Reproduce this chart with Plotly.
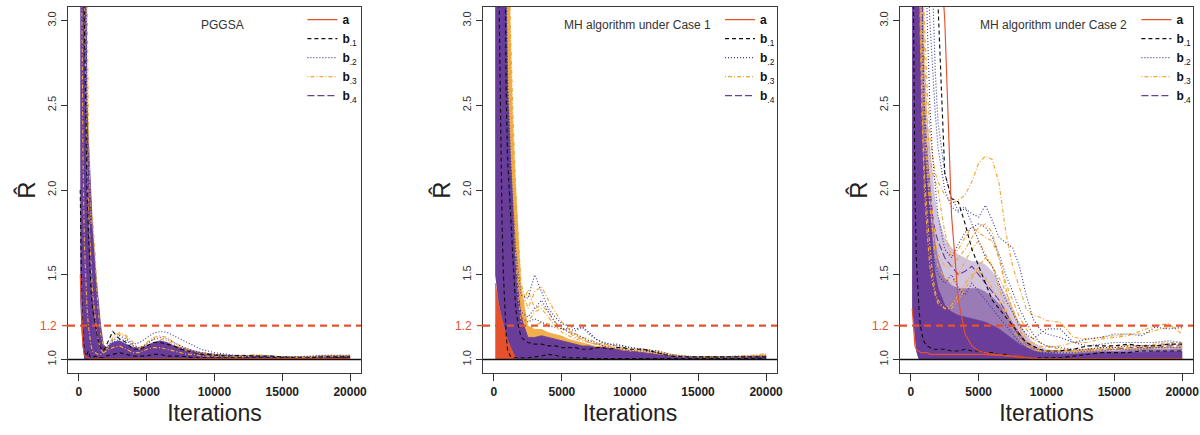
import plotly.graph_objects as go
from plotly.subplots import make_subplots

# ---------------- data ----------------
X = [100, 200, 300, 400, 500, 600, 700, 800, 900, 1000,
     1200, 1400, 1600, 1800, 2000,
     2500, 3000, 3500, 4000, 4500, 5000, 5500, 6000, 6500, 7000, 7500, 8000, 8500, 9000, 9500, 10000,
     11000, 12000, 13000, 14000, 15000, 16000, 17000, 18000, 19000, 20000]
X_TICKS = [0, 5000, 10000, 15000, 20000]
Y_TICKS = [1.0, 1.5, 2.0, 2.5, 3.0]
Y_TICK_TEXT = ["1.0", "1.5", "2.0", "2.5", "3.0"]
THRESHOLD = 1.2
PANEL_TITLES = ["PGGSA", "MH algorithm under Case 1", "MH algorithm under Case 2"]
LEGEND_NAMES = ["<b>a</b><sub>&nbsp;</sub>", "<b>b</b><sub>.1</sub>", "<b>b</b><sub>.2</sub>",
                "<b>b</b><sub>.3</sub>", "<b>b</b><sub>.4</sub>"]

# ---- Panel 1 : PGGSA ----
P1_LOW = [1.35, 1.15, 1.06, 1.0, 1.0, 1.0, 1.0, 1.0, 1.0, 1.0,
          1.0, 1.0, 1.0, 1.0, 1.0,
          1.0, 1.0, 1.0, 1.0, 1.0, 1.0, 1.0, 1.0, 1.0, 1.0, 1.0, 1.0, 1.0, 1.0, 1.0, 1.0,
          1.0, 1.0, 1.0, 1.0, 1.0, 1.0, 1.0, 1.0, 1.0, 1.0]
P1_TOP = [5.0, 5.0, 5.0, 5.0, 3.3, 2.5, 2.3, 2.12, 1.95, 1.78,
          1.55, 1.35, 1.2, 1.09, 1.07,
          1.10, 1.11, 1.09, 1.07, 1.07, 1.08, 1.10, 1.11, 1.10, 1.08, 1.07, 1.06, 1.05, 1.04, 1.035, 1.03,
          1.025, 1.02, 1.02, 1.02, 1.015, 1.015, 1.015, 1.02, 1.02, 1.02]
P1_B1 = [
    [5.0, 5.0, 4.0, 3.0, 2.4, 2.0, 1.75, 1.55, 1.4, 1.3,
     1.2, 1.12, 1.07, 1.05, 1.08,
     1.165, 1.12, 1.10, 1.06, 1.06, 1.08, 1.10, 1.10, 1.09, 1.08, 1.06, 1.05, 1.04, 1.03, 1.03, 1.025,
     1.02, 1.025, 1.02, 1.02, 1.015, 1.01, 1.01, 1.015, 1.015, 1.015],
    [2.0, 1.4, 1.15, 1.05, 1.02, 1.03, 1.05, 1.02, 1.01, 1.01,
     1.02, 1.01, 1.01, 1.01, 1.02,
     1.03, 1.04, 1.03, 1.02, 1.02, 1.02, 1.03, 1.03, 1.02, 1.02, 1.02, 1.015, 1.01, 1.01, 1.01, 1.01,
     1.01, 1.01, 1.01, 1.01, 1.01, 1.005, 1.005, 1.005, 1.01, 1.01],
]
P1_B2 = [
    [5.0, 5.0, 5.0, 4.2, 3.0, 2.4, 2.1, 1.9, 1.75, 1.6,
     1.4, 1.25, 1.12, 1.07, 1.07,
     1.11, 1.14, 1.12, 1.09, 1.10, 1.13, 1.155, 1.165, 1.16, 1.14, 1.12, 1.10, 1.08, 1.06, 1.05, 1.04,
     1.03, 1.02, 1.02, 1.02, 1.015, 1.015, 1.02, 1.025, 1.025, 1.025],
    [5.0, 4.0, 3.0, 2.3, 1.9, 1.6, 1.4, 1.25, 1.15, 1.1,
     1.06, 1.04, 1.04, 1.05, 1.06,
     1.10, 1.12, 1.11, 1.08, 1.07, 1.09, 1.12, 1.13, 1.12, 1.10, 1.08, 1.065, 1.05, 1.04, 1.035, 1.03,
     1.02, 1.02, 1.02, 1.015, 1.015, 1.015, 1.015, 1.02, 1.02, 1.02],
]
P1_B3 = [
    [5.0, 5.0, 5.0, 5.0, 4.0, 2.9, 2.4, 2.0, 1.8, 1.84,
     1.62, 1.3, 1.15, 1.08, 1.06,
     1.12, 1.15, 1.13, 1.08, 1.07, 1.10, 1.13, 1.14, 1.13, 1.10, 1.08, 1.06, 1.05, 1.04, 1.035, 1.03,
     1.02, 1.02, 1.025, 1.02, 1.015, 1.015, 1.015, 1.02, 1.025, 1.025],
    [5.0, 5.0, 4.5, 3.2, 2.6, 2.2, 1.9, 1.7, 1.5, 1.4,
     1.25, 1.12, 1.06, 1.04, 1.05,
     1.13, 1.16, 1.14, 1.10, 1.06, 1.09, 1.12, 1.12, 1.11, 1.09, 1.07, 1.05, 1.04, 1.035, 1.03, 1.025,
     1.02, 1.02, 1.02, 1.015, 1.015, 1.01, 1.015, 1.02, 1.02, 1.02],
    [4.5, 3.0, 2.2, 1.7, 1.45, 1.3, 1.2, 1.12, 1.08, 1.05,
     1.04, 1.03, 1.03, 1.04, 1.05,
     1.07, 1.08, 1.06, 1.04, 1.04, 1.06, 1.07, 1.07, 1.06, 1.05, 1.04, 1.03, 1.03, 1.02, 1.02, 1.02,
     1.015, 1.015, 1.03, 1.02, 1.01, 1.01, 1.01, 1.015, 1.02, 1.02],
]
P1_A = [
    [1.5, 1.22, 1.08, 1.03, 1.02, 1.01, 1.01, 1.005, 1.005, 1.005,
     1.005, 1.005, 1.005, 1.005, 1.005,
     1.005, 1.005, 1.005, 1.005, 1.005, 1.005, 1.005, 1.005, 1.005, 1.005, 1.005, 1.005, 1.005, 1.005, 1.005, 1.005,
     1.005, 1.005, 1.005, 1.005, 1.005, 1.005, 1.005, 1.005, 1.005, 1.005],
]

# ---- Panel 2 : MH algorithm, Case 1 ----
P2_RED_TOP = [1.45, 1.4, 1.35, 1.31, 1.28, 1.25, 1.22, 1.19, 1.16, 1.13,
              1.09, 1.06, 1.04, 1.02, 1.0,
              1.0, 1.0, 1.0, 1.0, 1.0, 1.0, 1.0, 1.0, 1.0, 1.0, 1.0, 1.0, 1.0, 1.0, 1.0, 1.0,
              1.0, 1.0, 1.0, 1.0, 1.0, 1.0, 1.0, 1.0, 1.0, 1.0]
P2_LOW = [1.5, 1.42, 1.36, 1.31, 1.27, 1.24, 1.21, 1.18, 1.15, 1.12,
          1.08, 1.04, 1.01, 1.0, 1.0,
          1.0, 1.0, 1.0, 1.0, 1.0, 1.0, 1.0, 1.0, 1.0, 1.0, 1.0, 1.0, 1.0, 1.0, 1.0, 1.0,
          1.0, 1.0, 1.0, 1.0, 1.0, 1.0, 1.0, 1.0, 1.0, 1.0]
P2_ORANGE_TOP = [5.0, 5.0, 5.0, 5.0, 5.0, 5.0, 5.0, 5.0, 5.0, 5.0,
                 3.0, 2.4, 2.05, 1.75, 1.45,
                 1.2, 1.18, 1.18, 1.16, 1.15, 1.14, 1.12, 1.11, 1.10, 1.09, 1.08, 1.08, 1.07, 1.065, 1.06, 1.055,
                 1.045, 1.035, 1.025, 1.02, 1.015, 1.015, 1.015, 1.015, 1.02, 1.03]
P2_TOP = [5.0, 5.0, 5.0, 5.0, 5.0, 5.0, 5.0, 3.6, 3.0, 2.6,
          2.2, 1.88, 1.62, 1.42, 1.25,
          1.13, 1.13, 1.14, 1.13, 1.12, 1.11, 1.10, 1.09, 1.08, 1.08, 1.07, 1.07, 1.065, 1.06, 1.05, 1.05,
          1.04, 1.03, 1.02, 1.015, 1.015, 1.015, 1.015, 1.015, 1.015, 1.02]
P2_B1 = [
    [5.0, 5.0, 4.0, 3.0, 2.3, 1.8, 1.5, 1.3, 1.15, 1.06,
     1.02, 1.01, 1.01, 1.01, 1.01,
     1.01, 1.015, 1.02, 1.03, 1.025, 1.015, 1.01, 1.01, 1.01, 1.005, 1.005, 1.005, 1.005, 1.005, 1.005, 1.005,
     1.005, 1.005, 1.005, 1.005, 1.005, 1.005, 1.005, 1.005, 1.005, 1.005],
    [5.0, 5.0, 5.0, 5.0, 5.0, 5.0, 5.0, 3.6, 2.6, 2.2,
     1.9, 1.55, 1.3, 1.2, 1.13,
     1.1, 1.09, 1.09, 1.08, 1.08, 1.07, 1.07, 1.07, 1.06, 1.06, 1.07, 1.07, 1.06, 1.07, 1.07, 1.06,
     1.06, 1.04, 1.02, 1.015, 1.015, 1.015, 1.015, 1.015, 1.015, 1.015],
]
P2_B2 = [
    [5.0, 5.0, 5.0, 5.0, 5.0, 5.0, 4.5, 3.8, 3.2, 2.7,
     2.25, 1.9, 1.65, 1.5, 1.38,
     1.36, 1.50, 1.40, 1.30, 1.25, 1.21, 1.20, 1.18, 1.19, 1.15, 1.12, 1.10, 1.09, 1.09, 1.08, 1.07,
     1.06, 1.04, 1.02, 1.015, 1.015, 1.015, 1.015, 1.02, 1.02, 1.02],
    [5.0, 5.0, 5.0, 5.0, 5.0, 5.0, 4.2, 3.5, 2.9, 2.5,
     2.0, 1.7, 1.5, 1.35, 1.28,
     1.25, 1.30, 1.35, 1.28, 1.22, 1.18, 1.16, 1.15, 1.13, 1.11, 1.10, 1.08, 1.07, 1.06, 1.06, 1.05,
     1.05, 1.04, 1.02, 1.015, 1.01, 1.01, 1.015, 1.015, 1.015, 1.015],
    [5.0, 5.0, 5.0, 5.0, 4.5, 3.8, 3.2, 2.8, 2.4, 2.1,
     1.8, 1.55, 1.4, 1.3, 1.25,
     1.22, 1.24, 1.22, 1.2, 1.19, 1.18, 1.18, 1.17, 1.19, 1.16, 1.12, 1.10, 1.09, 1.08, 1.08, 1.07,
     1.06, 1.05, 1.03, 1.02, 1.015, 1.015, 1.015, 1.015, 1.015, 1.02],
]
P2_B3 = [
    [5.0, 5.0, 5.0, 5.0, 5.0, 5.0, 5.0, 5.0, 5.0, 4.0,
     3.0, 2.45, 2.0, 1.7, 1.45,
     1.30, 1.40, 1.43, 1.35, 1.28, 1.22, 1.18, 1.15, 1.13, 1.12, 1.10, 1.09, 1.08, 1.07, 1.065, 1.06,
     1.05, 1.04, 1.03, 1.02, 1.015, 1.015, 1.015, 1.02, 1.025, 1.035],
    [5.0, 5.0, 5.0, 5.0, 5.0, 5.0, 5.0, 5.0, 4.5, 3.8,
     2.8, 2.2, 1.8, 1.5, 1.3,
     1.41, 1.30, 1.32, 1.28, 1.22, 1.18, 1.17, 1.14, 1.12, 1.10, 1.09, 1.08, 1.07, 1.06, 1.06, 1.05,
     1.05, 1.04, 1.025, 1.015, 1.01, 1.01, 1.01, 1.015, 1.02, 1.025],
    [5.0, 5.0, 5.0, 5.0, 5.0, 5.0, 5.0, 4.6, 3.9, 3.3,
     2.5, 2.0, 1.6, 1.35, 1.22,
     1.22, 1.28, 1.30, 1.25, 1.20, 1.16, 1.14, 1.12, 1.11, 1.10, 1.09, 1.08, 1.075, 1.07, 1.065, 1.06,
     1.06, 1.05, 1.03, 1.02, 1.015, 1.015, 1.015, 1.015, 1.02, 1.02],
    [5.0, 5.0, 5.0, 5.0, 5.0, 5.0, 5.0, 5.0, 4.2, 3.5,
     2.6, 2.1, 1.75, 1.45, 1.3,
     1.18, 1.2, 1.22, 1.21, 1.2, 1.19, 1.16, 1.13, 1.12, 1.10, 1.09, 1.09, 1.085, 1.08, 1.07, 1.06,
     1.05, 1.035, 1.02, 1.015, 1.015, 1.015, 1.015, 1.015, 1.015, 1.02],
]
P2_A = [
    [1.5, 1.35, 1.25, 1.15, 1.1, 1.06, 1.04, 1.03, 1.02, 1.01,
     1.005, 1.005, 1.005, 1.005, 1.005,
     1.005, 1.005, 1.005, 1.005, 1.005, 1.005, 1.005, 1.005, 1.005, 1.005, 1.005, 1.005, 1.005, 1.005, 1.005, 1.005,
     1.005, 1.005, 1.005, 1.005, 1.005, 1.005, 1.005, 1.005, 1.005, 1.005],
]

# ---- Panel 3 : MH algorithm, Case 2 ----
P3_LOW = [1.3, 1.2, 1.1, 1.05, 1.02, 1.0, 1.0, 1.0, 1.0, 1.0,
          1.0, 1.0, 1.0, 1.0, 1.0,
          1.0, 1.0, 1.0, 1.0, 1.0, 1.0, 1.0, 1.0, 1.0, 1.0, 1.0, 1.0, 1.0, 1.0, 1.0, 1.0,
          1.0, 1.0, 1.0, 1.0, 1.0, 1.0, 1.0, 1.0, 1.0, 1.0]
P3_CORE = [5.0, 5.0, 5.0, 5.0, 4.0, 3.1, 2.75, 2.5, 2.3, 2.2,
           2.05, 1.9, 1.65, 1.5, 1.42,
           1.32, 1.28, 1.26, 1.25, 1.24, 1.23, 1.22, 1.20, 1.18, 1.15, 1.12, 1.09, 1.07, 1.05, 1.04, 1.035,
           1.03, 1.03, 1.035, 1.04, 1.04, 1.04, 1.04, 1.045, 1.045, 1.045]
P3_MID = [5.0, 5.0, 5.0, 5.0, 5.0, 4.2, 3.3, 3.0, 2.75, 2.55,
          2.25, 2.05, 1.85, 1.7, 1.6,
          1.48, 1.44, 1.42, 1.42, 1.42, 1.42, 1.40, 1.37, 1.33, 1.28, 1.22, 1.16, 1.11, 1.08, 1.06, 1.05,
          1.04, 1.04, 1.05, 1.05, 1.05, 1.055, 1.06, 1.06, 1.06, 1.065]
P3_OUTER = [5.0, 5.0, 5.0, 5.0, 5.0, 5.0, 5.0, 3.6, 3.1, 2.8,
            2.45, 2.25, 2.1, 1.95, 1.85,
            1.72, 1.66, 1.62, 1.60, 1.58, 1.58, 1.56, 1.52, 1.45, 1.38, 1.30, 1.22, 1.15, 1.10, 1.08, 1.06,
            1.05, 1.05, 1.06, 1.06, 1.06, 1.065, 1.07, 1.07, 1.07, 1.075]
P3_B1 = [
    [5.0, 5.0, 5.0, 5.0, 5.0, 5.0, 5.0, 5.0, 5.0, 5.0,
     5.0, 4.4, 3.9, 3.5, 3.1,
     2.1, 1.95, 1.93, 1.80, 1.65, 1.55, 1.45, 1.35, 1.30, 1.25, 1.20, 1.15, 1.10, 1.08, 1.06, 1.05,
     1.05, 1.06, 1.08, 1.08, 1.08, 1.09, 1.08, 1.08, 1.09, 1.09],
    [4.0, 2.8, 2.0, 1.6, 1.4, 1.3, 1.2, 1.15, 1.12, 1.1,
     1.08, 1.07, 1.06, 1.06, 1.06,
     1.06, 1.05, 1.05, 1.06, 1.05, 1.05, 1.04, 1.04, 1.03, 1.03, 1.02, 1.015, 1.01, 1.01, 1.01, 1.01,
     1.01, 1.02, 1.03, 1.04, 1.04, 1.04, 1.05, 1.05, 1.05, 1.05],
]
P3_B2 = [
    [5.0, 5.0, 5.0, 5.0, 5.0, 5.0, 5.0, 5.0, 5.0, 4.2,
     3.5, 3.0, 2.7, 2.45, 2.25,
     2.0, 1.9, 1.87, 1.89, 1.86, 1.84, 1.91, 1.82, 1.72, 1.69, 1.66, 1.55, 1.38, 1.24, 1.18, 1.15,
     1.13, 1.10, 1.12, 1.13, 1.15, 1.15, 1.14, 1.19, 1.18, 1.19],
    [5.0, 5.0, 5.0, 5.0, 5.0, 5.0, 5.0, 5.0, 5.0, 5.0,
     5.0, 4.0, 3.2, 2.7, 2.4,
     2.1, 1.95, 1.88, 1.90, 1.80, 1.70, 1.60, 1.55, 1.45, 1.35, 1.28, 1.20, 1.15, 1.12, 1.15, 1.18,
     1.18, 1.10, 1.08, 1.09, 1.10, 1.10, 1.10, 1.10, 1.11, 1.10],
    [5.0, 5.0, 5.0, 5.0, 5.0, 5.0, 5.0, 5.0, 4.5, 3.8,
     3.0, 2.5, 2.2, 2.0, 1.85,
     1.65, 1.6, 1.68, 1.75, 1.78, 1.80, 1.78, 1.72, 1.62, 1.5, 1.4, 1.3, 1.22, 1.15, 1.1, 1.08,
     1.07, 1.06, 1.06, 1.07, 1.07, 1.08, 1.08, 1.08, 1.09, 1.09],
    [5.0, 5.0, 5.0, 5.0, 5.0, 5.0, 4.0, 3.2, 2.7, 2.4,
     2.0, 1.8, 1.65, 1.55, 1.5,
     1.45, 1.5, 1.42, 1.38, 1.45, 1.4, 1.35, 1.3, 1.25, 1.2, 1.15, 1.1, 1.07, 1.05, 1.04, 1.04,
     1.04, 1.04, 1.05, 1.05, 1.06, 1.06, 1.06, 1.07, 1.07, 1.07],
]
P3_B3 = [
    [5.0, 5.0, 5.0, 5.0, 5.0, 4.5, 4.0, 3.6, 3.3, 3.0,
     2.6, 2.35, 2.2, 2.1, 2.05,
     1.97, 1.92, 1.94, 1.97, 2.05, 2.16, 2.20, 2.18, 2.04, 1.75, 1.55, 1.42, 1.30, 1.26, 1.25, 1.23,
     1.22, 1.13, 1.12, 1.13, 1.14, 1.15, 1.15, 1.17, 1.19, 1.18],
    [5.0, 5.0, 5.0, 5.0, 5.0, 5.0, 4.2, 3.6, 3.1, 2.8,
     2.4, 2.2, 2.1, 2.05, 2.0,
     1.75, 1.6, 1.65, 1.72, 1.78, 1.75, 1.72, 1.70, 1.6, 1.45, 1.35, 1.25, 1.18, 1.12, 1.10, 1.08,
     1.06, 1.05, 1.06, 1.06, 1.07, 1.07, 1.08, 1.08, 1.09, 1.08],
    [5.0, 5.0, 5.0, 5.0, 5.0, 4.0, 3.3, 2.9, 2.6, 2.4,
     2.1, 1.9, 1.75, 1.62, 1.55,
     1.48, 1.45, 1.5, 1.58, 1.65, 1.7, 1.62, 1.55, 1.48, 1.4, 1.3, 1.2, 1.12, 1.08, 1.06, 1.05,
     1.05, 1.05, 1.06, 1.07, 1.08, 1.08, 1.08, 1.09, 1.1, 1.1],
    [5.0, 5.0, 5.0, 5.0, 5.0, 3.8, 3.0, 2.6, 2.3, 2.1,
     1.85, 1.65, 1.5, 1.4, 1.35,
     1.3, 1.3, 1.35, 1.42, 1.48, 1.55, 1.6, 1.55, 1.42, 1.3, 1.2, 1.15, 1.1, 1.1, 1.08, 1.07,
     1.08, 1.1, 1.1, 1.12, 1.13, 1.14, 1.17, 1.2, 1.21, 1.15],
    [5.0, 5.0, 5.0, 5.0, 5.0, 4.2, 3.5, 3.0, 2.7, 2.5,
     2.2, 2.0, 1.85, 1.72, 1.62,
     1.55, 1.55, 1.6, 1.65, 1.72, 1.78, 1.8, 1.75, 1.6, 1.42, 1.28, 1.18, 1.1, 1.07, 1.05, 1.05,
     1.05, 1.04, 1.05, 1.05, 1.06, 1.06, 1.06, 1.07, 1.07, 1.07],
    [5.0, 5.0, 5.0, 5.0, 4.6, 3.6, 2.9, 2.5, 2.2, 2.0,
     1.75, 1.55, 1.45, 1.38, 1.33,
     1.3, 1.32, 1.38, 1.45, 1.5, 1.52, 1.48, 1.42, 1.35, 1.26, 1.18, 1.12, 1.08, 1.06, 1.05, 1.05,
     1.05, 1.05, 1.05, 1.06, 1.06, 1.06, 1.07, 1.07, 1.07, 1.07],
]
P3_B4 = [
    [5.0, 5.0, 5.0, 5.0, 5.0, 5.0, 4.0, 3.3, 2.8, 2.5,
     2.2, 2.0, 1.85, 1.75, 1.7,
     1.6, 1.55, 1.5, 1.52, 1.55, 1.5, 1.45, 1.4, 1.35, 1.28, 1.2, 1.14, 1.1, 1.07, 1.05, 1.05,
     1.05, 1.05, 1.06, 1.06, 1.06, 1.07, 1.07, 1.07, 1.08, 1.08],
]
P3_A = [
    [5.0, 5.0, 5.0, 5.0, 5.0, 5.0, 5.0, 5.0, 5.0, 5.0,
     5.0, 5.0, 4.6, 4.1, 3.65,
     3.0, 1.85, 1.35, 1.15, 1.08, 1.05, 1.04, 1.03, 1.03, 1.02, 1.02, 1.01, 1.01, 1.005, 1.005, 1.005,
     1.005, 1.005, 1.005, 1.005, 1.005, 1.005, 1.005, 1.005, 1.005, 1.005],
    [1.3, 1.15, 1.08, 1.06, 1.05, 1.05, 1.04, 1.04, 1.04, 1.04,
     1.04, 1.03, 1.03, 1.03, 1.03,
     1.03, 1.03, 1.03, 1.03, 1.03, 1.03, 1.03, 1.025, 1.025, 1.025, 1.02, 1.02, 1.01, 1.01, 1.005, 1.005,
     1.005, 1.005, 1.005, 1.005, 1.005, 1.005, 1.005, 1.005, 1.005, 1.005],
]

# ---------------- styles ----------------
C_A = "#E4512C"
C_B1 = "#111111"
C_B2 = "#3C3C9C"
C_B3 = "#F0A73A"
C_B4 = "#6A3D9A"
DASH = {"a": "solid", "b1": "4px,3px", "b2": "1px,2px", "b3": "1px,2px,4px,2px", "b4": "7px,3px"}
FONT = "Liberation Sans, Arial, sans-serif"

fig = make_subplots(rows=1, cols=3)

for arr in [P1_LOW, P1_TOP, P2_RED_TOP, P2_LOW, P2_ORANGE_TOP, P2_TOP, P3_LOW, P3_CORE, P3_MID, P3_OUTER] + \
        P1_B1 + P1_B2 + P1_B3 + P1_A + P2_B1 + P2_B2 + P2_B3 + P2_A + P3_B1 + P3_B2 + P3_B3 + P3_B4 + P3_A:
    assert len(arr) == len(X), len(arr)


def band(col, low, top, color, edge=0.8):
    fig.add_trace(go.Scatter(x=X, y=low, mode="lines", line=dict(width=0, color=color),
                             showlegend=False, hoverinfo="skip"), row=1, col=col)
    fig.add_trace(go.Scatter(x=X, y=top, mode="lines", line=dict(width=edge, color=color),
                             fill="tonexty", fillcolor=color, showlegend=False, hoverinfo="skip"),
                  row=1, col=col)


def lines(col, group, color, dash, width=1.15):
    for ys in group:
        fig.add_trace(go.Scatter(x=X, y=ys, mode="lines", line=dict(color=color, dash=dash, width=width),
                                 showlegend=False, hoverinfo="skip"), row=1, col=col)


BASE = [1.0] * len(X)

# Panel 1
band(1, P1_LOW, P1_TOP, C_B4)
lines(1, P1_B3, C_B3, DASH["b3"])
lines(1, P1_B2, C_B2, DASH["b2"])
lines(1, P1_B1, C_B1, DASH["b1"])
lines(1, P1_A, C_A, DASH["a"])

# Panel 2
band(2, BASE, P2_RED_TOP, C_A)
band(2, P2_LOW, P2_ORANGE_TOP, "rgba(240,167,58,0.9)", edge=0)
band(2, P2_LOW, P2_TOP, C_B4)
lines(2, P2_B3, C_B3, DASH["b3"])
lines(2, P2_B2, C_B2, DASH["b2"])
lines(2, P2_B1, C_B1, DASH["b1"])

# Panel 3
band(3, P3_LOW, P3_OUTER, "rgba(118,72,150,0.32)", edge=0)
band(3, P3_LOW, P3_MID, "rgba(110,64,150,0.55)", edge=0)
band(3, P3_LOW, P3_CORE, C_B4)
lines(3, P3_B4, C_B4, DASH["b4"])
lines(3, P3_B3, C_B3, DASH["b3"])
lines(3, P3_B2, C_B2, DASH["b2"])
lines(3, P3_B1, C_B1, DASH["b1"])
lines(3, P3_A, C_A, DASH["a"])

# legends
leg_keys = ["legend", "legend2", "legend3"]
leg_styles = [(C_A, DASH["a"]), (C_B1, DASH["b1"]), (C_B2, DASH["b2"]), (C_B3, DASH["b3"]), (C_B4, DASH["b4"])]
for k in range(3):
    for name, (c, d) in zip(LEGEND_NAMES, leg_styles):
        fig.add_trace(go.Scatter(x=[None], y=[None], mode="lines", name=name,
                                 line=dict(color=c, dash=d, width=1.3), legend=leg_keys[k]),
                      row=1, col=k + 1)

x_domains = [[0.0567, 0.3008], [0.4025, 0.6475], [0.75, 0.9942]]
legend_x = [0.252, 0.600, 0.947]
title_x = [0.185, 0.531, 0.8775]

layout = dict(
    template="none",
    width=1200, height=435,
    margin=dict(l=0, r=0, t=7, b=62, autoexpand=False),
    plot_bgcolor="white", paper_bgcolor="white",
    font=dict(family=FONT, color="#222"),
)
for k in range(3):
    sx = "xaxis" if k == 0 else f"xaxis{k+1}"
    sy = "yaxis" if k == 0 else f"yaxis{k+1}"
    layout[sx] = dict(domain=x_domains[k], range=[-800, 20800], tickvals=X_TICKS, tickformat="d",
                      ticks="outside", ticklen=7, tickwidth=1.2, tickcolor="#333",
                      showline=True, mirror=True, linecolor="#3a3a3a", linewidth=1.3,
                      showgrid=False, zeroline=False, automargin=False,
                      tickfont=dict(size=12, color="#222", family=FONT, weight="bold"),
                      title=dict(text="Iterations", font=dict(size=23, color="#222"), standoff=7))
    layout[sy] = dict(domain=[0, 1], range=[0.92, 3.08], tickvals=Y_TICKS, ticktext=Y_TICK_TEXT,
                      tickangle=-90, ticks="outside", ticklen=6, tickwidth=1.2, tickcolor="#333",
                      showline=True, mirror=True, linecolor="#3a3a3a", linewidth=1.3,
                      showgrid=False, zeroline=False, automargin=False,
                      tickfont=dict(size=11, color="#333", family=FONT),
                      title=dict(text="R\u0302", font=dict(size=24, color="#222"), standoff=4))
    layout[leg_keys[k]] = dict(x=legend_x[k], y=1.005, xanchor="left", yanchor="top",
                               bgcolor="rgba(0,0,0,0)", font=dict(size=12, color="#111", family=FONT),
                               itemwidth=30, tracegroupgap=0, traceorder="normal")
fig.update_layout(**layout)

shapes = []
annotations = []
for k in range(3):
    xr = "x" if k == 0 else f"x{k+1}"
    yr = "y" if k == 0 else f"y{k+1}"
    shapes.append(dict(type="line", xref=f"{xr} domain", yref=yr, x0=0, x1=1, y0=1.0, y1=1.0,
                       line=dict(color="#111", width=1.6), layer="above"))
    shapes.append(dict(type="line", xref=f"{xr} domain", yref=yr, x0=0, x1=1, y0=THRESHOLD, y1=THRESHOLD,
                       line=dict(color=C_A, width=2.2, dash="7px,5px"), layer="above"))
    shapes.append(dict(type="line", xref=f"{xr} domain", yref=yr, x0=-0.021, x1=0, y0=THRESHOLD, y1=THRESHOLD,
                       line=dict(color=C_A, width=1.4), layer="above"))
    annotations.append(dict(xref=f"{xr} domain", yref=yr, x=0, y=THRESHOLD, xanchor="right", yanchor="middle",
                            xshift=-9, text=str(THRESHOLD), showarrow=False,
                            font=dict(size=12, color=C_A, family=FONT)))
    annotations.append(dict(xref="paper", yref="paper", x=title_x[k], y=0.95, xanchor="center", yanchor="middle",
                            text=PANEL_TITLES[k], showarrow=False, font=dict(size=12, color="#333", family=FONT)))
fig.update_layout(shapes=shapes, annotations=annotations)

fig.write_html("out.html", config={"displayModeBar": False},
               post_script="document.body.style.margin='0px';")
